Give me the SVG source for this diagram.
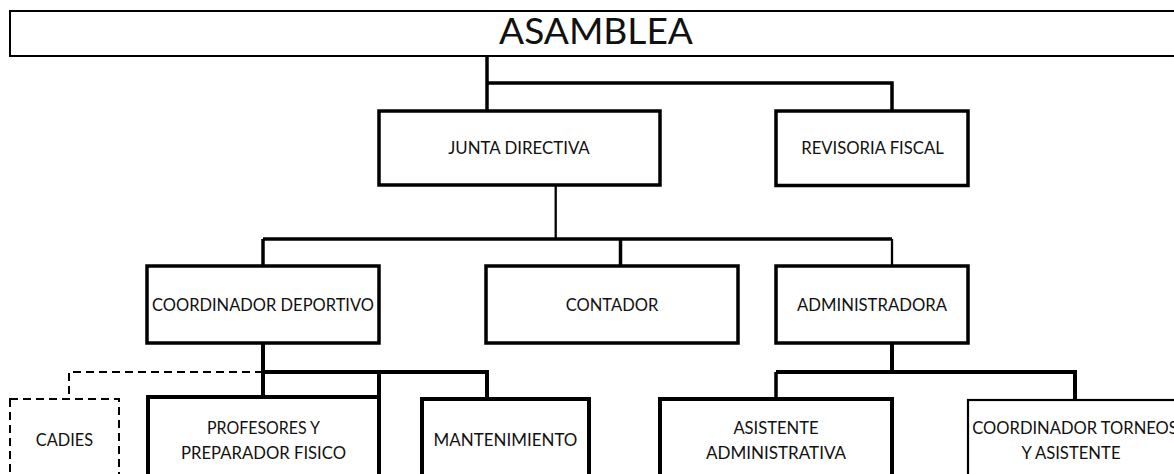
<svg xmlns="http://www.w3.org/2000/svg" width="1174" height="474" viewBox="0 0 1174 474">
  <style>
    .box{fill:#fff;stroke:#000;stroke-width:3.5}
    .box-thick{fill:#fff;stroke:#000;stroke-width:4}
    .box-thin{fill:#fff;stroke:#000;stroke-width:2.2}
    .box-dash{fill:#fff;stroke:#000;stroke-width:2;stroke-dasharray:8 5}
    .top{fill:#fff;stroke:#000;stroke-width:2}
    .c{fill:none;stroke:#000;stroke-width:3.5;stroke-linecap:butt;stroke-linejoin:miter}
    .c-thin{fill:none;stroke:#000;stroke-width:2.3}
    .c-thick{fill:none;stroke:#000;stroke-width:4}
    .c-dash{fill:none;stroke:#000;stroke-width:2;stroke-dasharray:8 5}
    text{font-family:Lato,"Liberation Sans",sans-serif;font-size:17.5px;fill:#111;text-anchor:middle}
    .big{font-size:37px}
  </style>
  <rect width="1174" height="474" fill="#fff"/>
  <g id="connectors">
    <path class="c" d="M487 56V111"/>
    <path class="c" d="M487 83H892V111"/>
    <path class="c-thin" d="M555.7 185V239"/>
    <path class="c" d="M263 239H892"/>
    <path class="c" d="M263 239V266"/>
    <path class="c" d="M620.5 239V266"/>
    <path class="c-thin" d="M892 239V266"/>
    <path class="c-thick" d="M263 343V397"/>
    <path class="c-thick" d="M263 372H487V399"/>
    <path class="c-thick" d="M379 372V397"/>
    <path class="c-dash" d="M263 372H69V399"/>
    <path class="c-thick" d="M892 343V372"/>
    <path class="c-thick" d="M776 372H1075V400"/>
    <path class="c" d="M776 372V399"/>
  </g>
  <g id="asamblea">
    <rect class="top" x="10" y="11" width="1180" height="45"/>
    <text class="big" x="596" y="44" textLength="194" lengthAdjust="spacingAndGlyphs">ASAMBLEA</text>
  </g>
  <g id="junta-directiva">
    <rect class="box" x="379" y="111" width="281" height="74"/>
    <text x="519" y="154" textLength="141.6" lengthAdjust="spacingAndGlyphs">JUNTA DIRECTIVA</text>
  </g>
  <g id="revisoria-fiscal">
    <rect class="box" x="776" y="111" width="192" height="74.5"/>
    <text x="872.5" y="154" textLength="142.6" lengthAdjust="spacingAndGlyphs">REVISORIA FISCAL</text>
  </g>
  <g id="coordinador-deportivo">
    <rect class="box" x="147" y="266" width="232" height="77"/>
    <text x="263" y="311" textLength="222" lengthAdjust="spacingAndGlyphs">COORDINADOR DEPORTIVO</text>
  </g>
  <g id="contador">
    <rect class="box" x="486" y="266" width="252" height="77"/>
    <text x="612" y="311" textLength="92.6" lengthAdjust="spacingAndGlyphs">CONTADOR</text>
  </g>
  <g id="administradora">
    <rect class="box" x="776" y="266" width="192" height="77"/>
    <text x="872" y="311" textLength="150" lengthAdjust="spacingAndGlyphs">ADMINISTRADORA</text>
  </g>
  <g id="cadies">
    <rect class="box-dash" x="10" y="399" width="109" height="90"/>
    <text x="64.5" y="445.5" textLength="57.3" lengthAdjust="spacingAndGlyphs">CADIES</text>
  </g>
  <g id="profesores">
    <rect class="box-thick" x="148" y="397" width="231" height="92"/>
    <text x="263.5" y="434" textLength="113" lengthAdjust="spacingAndGlyphs">PROFESORES Y</text>
    <text x="263.5" y="458.5" textLength="165" lengthAdjust="spacingAndGlyphs">PREPARADOR FISICO</text>
  </g>
  <g id="mantenimiento">
    <rect class="box-thick" x="422" y="399" width="167" height="90"/>
    <text x="505.5" y="446" textLength="143.9" lengthAdjust="spacingAndGlyphs">MANTENIMIENTO</text>
  </g>
  <g id="asistente-administrativa">
    <rect class="box-thick" x="660" y="399" width="232" height="90"/>
    <text x="776" y="434" textLength="85.2" lengthAdjust="spacingAndGlyphs">ASISTENTE</text>
    <text x="776" y="458.5" textLength="140.2" lengthAdjust="spacingAndGlyphs">ADMINISTRATIVA</text>
  </g>
  <g id="coordinador-torneos">
    <rect class="box-thin" x="968" y="400" width="220" height="90"/>
    <text x="1075" y="434" textLength="205.5" lengthAdjust="spacingAndGlyphs">COORDINADOR TORNEOS</text>
    <text x="1071" y="458.5" textLength="99.1" lengthAdjust="spacingAndGlyphs">Y ASISTENTE</text>
  </g>
</svg>
